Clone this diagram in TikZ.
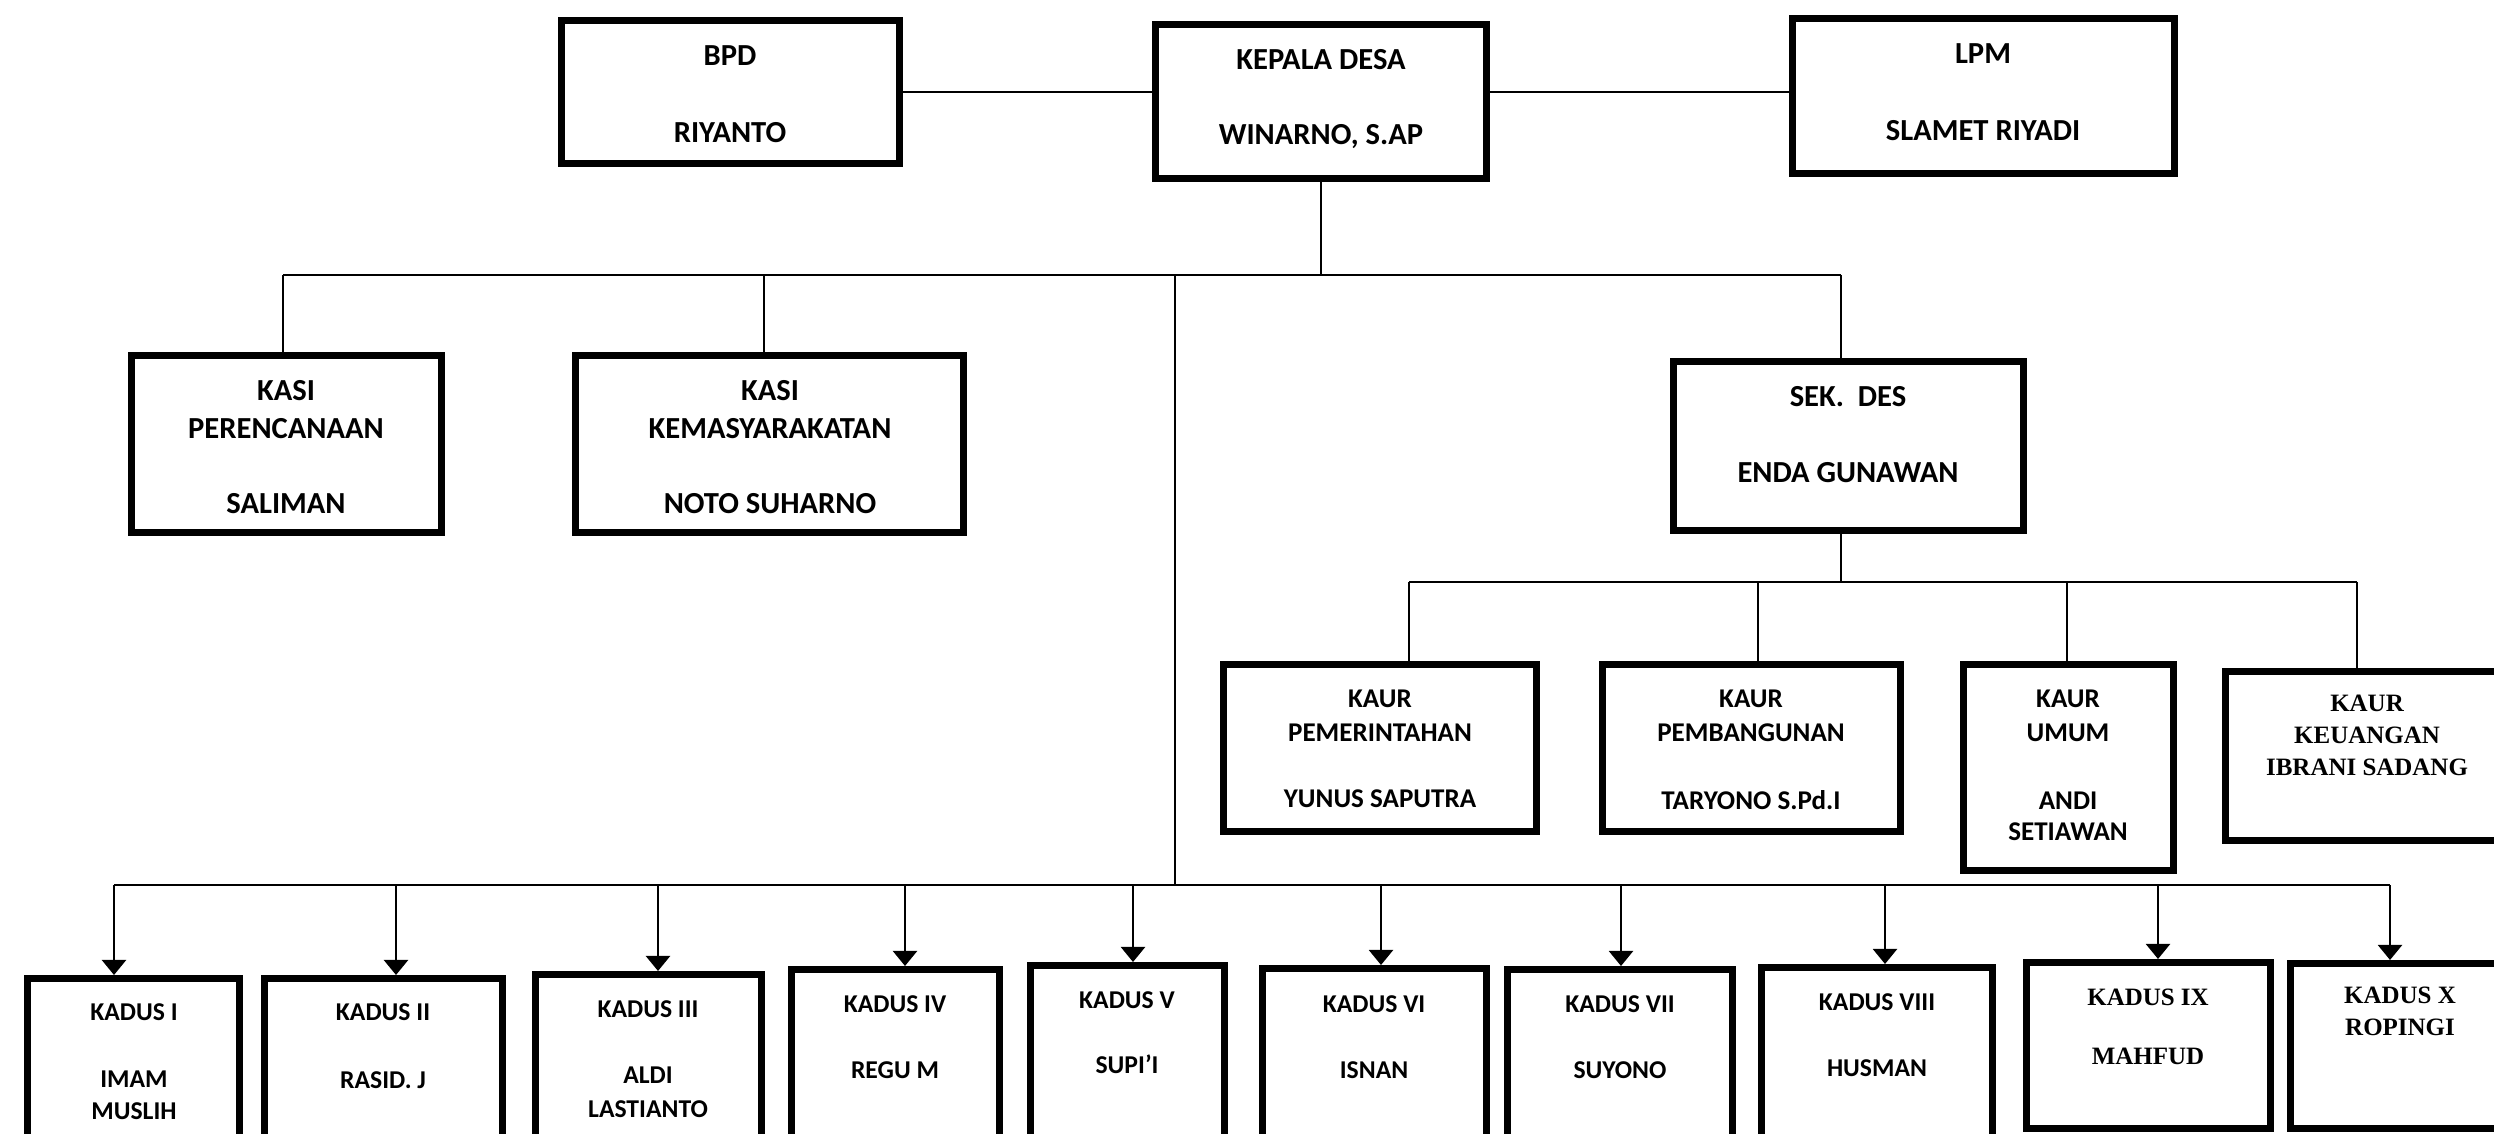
\documentclass[tikz,border=0pt]{standalone}
\usepackage{fontspec}
\setmainfont{Carlito}
\newfontfamily\tnr{Liberation Serif}
\usetikzlibrary{fit,arrows.meta}
\tikzset{
  obox/.style={draw, line width=0.07cm, inner sep=0pt},
  conn/.style={line width=0.022cm},
  arr/.style={conn, -{Triangle[length=0.15cm,width=0.24cm]}},
  tU/.style={font=\fontsize{8.7pt}{10pt}\selectfont\bfseries, inner sep=0pt, anchor=base},
  tK/.style={font=\fontsize{7.7pt}{9pt}\selectfont\bfseries, inner sep=0pt, anchor=base},
  tD/.style={font=\fontsize{7.3pt}{9pt}\selectfont\bfseries, inner sep=0pt, anchor=base},
  tS/.style={font=\fontsize{7.1pt}{9pt}\selectfont\tnr\bfseries, inner sep=0pt, anchor=base},
}
\newcommand\mkbox[5]{\node[obox, fit={({#2+3.5},{#3+3.5}) ({#4-3.5},{#5-3.5})}] (#1) {};}
\newcommand\mktxt[5]{\node[#1] (#2) at (#3,{#4+8.5}) {#5};}
\begin{document}
\begin{tikzpicture}[x=0.01cm, y=-0.01cm]
\useasboundingbox (0,0) rectangle (2494,1134);
\clip (0,0) rectangle (2494,1134);
\fill[white] (0,0) rectangle (2494,1134);

% ---- top row
\mkbox{bpd}{558}{17}{903}{167}
\mktxt{tU}{bpdA}{730}{57}{BPD}
\mktxt{tU}{bpdB}{730}{134}{RIYANTO}

\mkbox{kades}{1152}{21}{1490}{182}
\mktxt{tU}{kadesA}{1321}{61}{KEPALA DESA}
\mktxt{tU}{kadesB}{1321}{136}{WINARNO, S.AP}

\mkbox{lpm}{1789}{15}{2178}{177}
\mktxt{tU}{lpmA}{1983}{55}{LPM}
\mktxt{tU}{lpmB}{1983}{132}{SLAMET RIYADI}

\draw[conn] (bpd.east) -- (bpd.east -| kades.west);
\draw[conn] (kades.east |- bpd.east) -- (lpm.west |- bpd.east);

% ---- second row
\mkbox{kasiA}{128}{352}{445}{536}
\mktxt{tU}{kasiA1}{286}{392}{KASI}
\mktxt{tU}{kasiA2}{286}{430}{PERENCANAAN}
\mktxt{tU}{kasiA3}{286}{505}{SALIMAN}

\mkbox{kasiB}{572}{352}{967}{536}
\mktxt{tU}{kasiB1}{770}{392}{KASI}
\mktxt{tU}{kasiB2}{770}{430}{KEMASYARAKATAN}
\mktxt{tU}{kasiB3}{770}{505}{NOTO SUHARNO}

\mkbox{sek}{1670}{358}{2027}{534}
\mktxt{tU}{sekA}{1848}{398}{SEK.\ \ DES}
\mktxt{tU}{sekB}{1848}{474}{ENDA GUNAWAN}

\coordinate (tbL) at (283,275);
\coordinate (tbA) at (764,275);
\coordinate (tbM) at (1175,275);
\coordinate (tbK) at (1321,275);
\coordinate (tbR) at (1841,275);
\draw[conn] (tbL) -- (tbR);
\draw[conn] (kades.south -| tbK) -- (tbK);
\draw[conn] (tbL) -- (tbL |- kasiA.north);
\draw[conn] (tbA) -- (tbA |- kasiB.north);
\draw[conn] (tbR) -- (tbR |- sek.north);

% ---- kaur row
\mkbox{kaurA}{1220}{661}{1540}{835}
\mktxt{tK}{kaurA1}{1380}{699}{KAUR}
\mktxt{tK}{kaurA2}{1380}{733}{PEMERINTAHAN}
\mktxt{tK}{kaurA3}{1380}{799}{YUNUS SAPUTRA}

\mkbox{kaurB}{1599}{661}{1904}{835}
\mktxt{tK}{kaurB1}{1751}{699}{KAUR}
\mktxt{tK}{kaurB2}{1751}{733}{PEMBANGUNAN}
\mktxt{tK}{kaurB3}{1751}{801}{TARYONO S.Pd.I}

\mkbox{kaurC}{1960}{661}{2177}{874}
\mktxt{tK}{kaurC1}{2068}{699}{KAUR}
\mktxt{tK}{kaurC2}{2068}{733}{UMUM}
\mktxt{tK}{kaurC3}{2068}{801}{ANDI}
\mktxt{tK}{kaurC4}{2068}{832}{SETIAWAN}

\mkbox{kaurD}{2222}{668}{2510}{844}
\mktxt{tS}{kaurD1}{2367}{703}{KAUR}
\mktxt{tS}{kaurD2}{2367}{735}{KEUANGAN}
\mktxt{tS}{kaurD3}{2367}{767}{IBRANI SADANG}

\coordinate (sbA) at (1409,582);
\coordinate (sbB) at (1758,582);
\coordinate (sbS) at (1841,582);
\coordinate (sbC) at (2067,582);
\coordinate (sbD) at (2357,582);
\draw[conn] (sek.south -| sbS) -- (sbS);
\draw[conn] (sbA) -- (sbD);
\draw[conn] (sbA) -- (sbA |- kaurA.north);
\draw[conn] (sbB) -- (sbB |- kaurB.north);
\draw[conn] (sbC) -- (sbC |- kaurC.north);
\draw[conn] (sbD) -- (sbD |- kaurD.north);

% ---- kadus row
\mkbox{kd1}{24}{975}{243}{1145}
\mktxt{tD}{kd1a}{134}{1012}{KADUS I}
\mktxt{tD}{kd1b}{134}{1079}{IMAM}
\mktxt{tD}{kd1c}{134}{1111}{MUSLIH}

\mkbox{kd2}{261}{975}{506}{1145}
\mktxt{tD}{kd2a}{383}{1012}{KADUS II}
\mktxt{tD}{kd2b}{383}{1080}{RASID. J}

\mkbox{kd3}{532}{971}{765}{1145}
\mktxt{tD}{kd3a}{648}{1009}{KADUS III}
\mktxt{tD}{kd3b}{648}{1075}{ALDI}
\mktxt{tD}{kd3c}{648}{1109}{LASTIANTO}

\mkbox{kd4}{788}{966}{1003}{1145}
\mktxt{tD}{kd4a}{895}{1004}{KADUS IV}
\mktxt{tD}{kd4b}{895}{1070}{REGU M}

\mkbox{kd5}{1027}{962}{1228}{1145}
\mktxt{tD}{kd5a}{1127}{1000}{KADUS V}
\mktxt{tD}{kd5b}{1127}{1065}{SUPI'I}

\mkbox{kd6}{1259}{965}{1490}{1145}
\mktxt{tD}{kd6a}{1374}{1004}{KADUS VI}
\mktxt{tD}{kd6b}{1374}{1070}{ISNAN}

\mkbox{kd7}{1504}{966}{1736}{1145}
\mktxt{tD}{kd7a}{1620}{1004}{KADUS VII}
\mktxt{tD}{kd7b}{1620}{1070}{SUYONO}

\mkbox{kd8}{1758}{964}{1996}{1145}
\mktxt{tD}{kd8a}{1877}{1002}{KADUS VIII}
\mktxt{tD}{kd8b}{1877}{1068}{HUSMAN}

\mkbox{kd9}{2023}{959}{2274}{1132}
\mktxt{tS}{kd9a}{2148}{997}{KADUS IX}
\mktxt{tS}{kd9b}{2148}{1056}{MAHFUD}

\mkbox{kd10}{2287}{960}{2510}{1132}
\mktxt{tS}{kd10a}{2400}{995}{KADUS X}
\mktxt{tS}{kd10b}{2400}{1027}{ROPINGI}

\coordinate (kb1) at (114,885);
\coordinate (kb2) at (396,885);
\coordinate (kb3) at (658,885);
\coordinate (kb4) at (905,885);
\coordinate (kb5) at (1133,885);
\coordinate (kbM) at (1175,885);
\coordinate (kb6) at (1381,885);
\coordinate (kb7) at (1621,885);
\coordinate (kb8) at (1885,885);
\coordinate (kb9) at (2158,885);
\coordinate (kb10) at (2390,885);
\draw[conn] (tbM) -- (kbM);
\draw[conn] (kb1) -- (kb10);
\foreach \i in {1,...,10}{
  \draw[arr] (kb\i) -- (kb\i |- kd\i.north);
}
\end{tikzpicture}
\end{document}
